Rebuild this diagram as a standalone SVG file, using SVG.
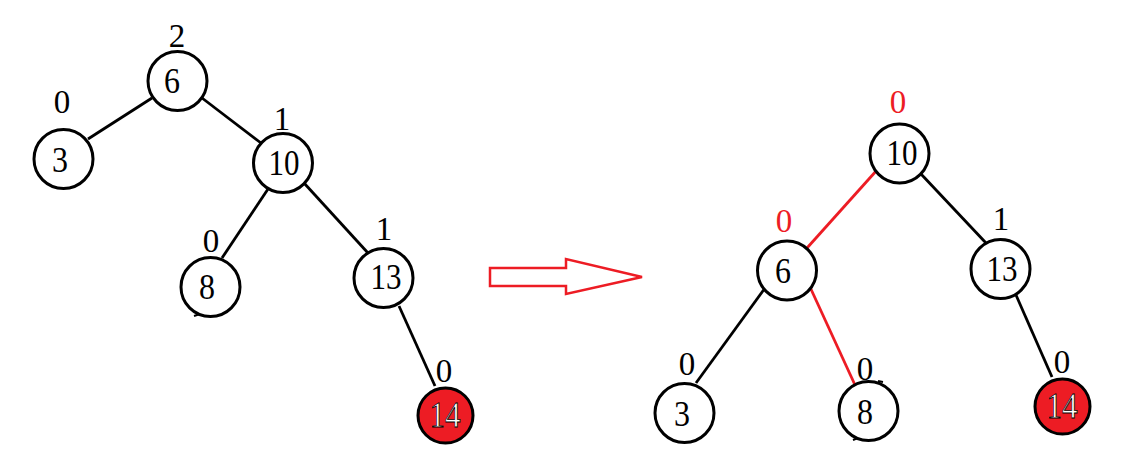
<svg xmlns="http://www.w3.org/2000/svg" width="1129" height="475" viewBox="0 0 1129 475">
<style>
.n{fill:#fff;stroke:#000;stroke-width:3}
.hot{fill:#ed1c24;stroke:#000;stroke-width:3}
.t{font-family:"Liberation Serif","Times New Roman",serif;font-size:36px;text-anchor:middle;fill:#000}
.tw{fill:#fff;stroke:#000;stroke-width:0.8}
.b{font-family:"Liberation Serif","Times New Roman",serif;font-size:33px;text-anchor:middle;fill:#000}
.r{fill:#ed1c24}
.e{stroke:#000;stroke-width:2.8;fill:none}
.er{stroke:#ed1c24;stroke-width:2.8;fill:none}
.tick{stroke:#000;stroke-width:2;fill:none}
</style>
<rect width="1129" height="475" fill="#fff"/>
<g id="connectors">
<line class="e" x1="152" y1="98" x2="88" y2="139"/>
<line class="e" x1="202" y1="98" x2="261" y2="143"/>
<line class="e" x1="268" y1="189" x2="222" y2="258"/>
<line class="e" x1="304" y1="183" x2="368" y2="253"/>
<line class="e" x1="399" y1="306" x2="435" y2="386"/>
<line class="er" x1="877" y1="170" x2="807" y2="248"/>
<line class="e" x1="921" y1="174" x2="986" y2="243"/>
<line class="e" x1="765" y1="288" x2="696" y2="383"/>
<line class="er" x1="810" y1="287" x2="855" y2="385"/>
<line class="e" x1="1016" y1="295" x2="1052" y2="377"/>
<path id="arrow" d="M490,268 H566 V259 L642,277 L566,294 V286 H490 Z" fill="#fff" stroke="#ed1c24" stroke-width="2.5"/>
</g>
<g id="L6"><circle class="n" cx="177.5" cy="81" r="29.5"/><text class="t" x="172" y="93" textLength="16" lengthAdjust="spacingAndGlyphs">6</text><text class="b" x="177" y="47">2</text></g>
<g id="L3"><circle class="n" cx="63.5" cy="159" r="29.5"/><text class="t" x="60" y="172" textLength="16" lengthAdjust="spacingAndGlyphs">3</text><text class="b" x="62" y="113">0</text></g>
<g id="L10"><circle class="n" cx="283" cy="163" r="29.5"/><text class="t" x="284" y="175" textLength="31" lengthAdjust="spacingAndGlyphs">10</text><text class="b" x="282" y="130">1</text></g>
<g id="L8"><circle class="n" cx="210.5" cy="287" r="29.5"/><text class="t" x="207" y="299" textLength="16" lengthAdjust="spacingAndGlyphs">8</text><text class="b" x="211" y="252">0</text><path class="tick" d="M194,316 L200,314"/></g>
<g id="L13"><circle class="n" cx="383.5" cy="278" r="29.5"/><text class="t" x="386" y="289" textLength="31" lengthAdjust="spacingAndGlyphs">13</text><text class="b" x="384" y="240">1</text></g>
<g id="L14"><circle class="hot" cx="445.5" cy="415.5" r="27.5"/><text class="t tw" x="445" y="427" textLength="31" lengthAdjust="spacingAndGlyphs">14</text><text class="b" x="444" y="382">0</text></g>
<g id="R10"><circle class="n" cx="899.5" cy="153.5" r="29.5"/><text class="t" x="902" y="165" textLength="31" lengthAdjust="spacingAndGlyphs">10</text><text class="b r" x="898" y="113">0</text></g>
<g id="R6"><circle class="n" cx="787" cy="270.5" r="29.5"/><text class="t" x="783" y="283" textLength="16" lengthAdjust="spacingAndGlyphs">6</text><text class="b r" x="784" y="232">0</text></g>
<g id="R13"><circle class="n" cx="1000.5" cy="269" r="29.5"/><text class="t" x="1002" y="281" textLength="31" lengthAdjust="spacingAndGlyphs">13</text><text class="b" x="1001" y="230">1</text></g>
<g id="R3"><circle class="n" cx="684.5" cy="413" r="29.5"/><text class="t" x="682" y="426" textLength="16" lengthAdjust="spacingAndGlyphs">3</text><text class="b" x="687" y="375">0</text></g>
<g id="R8"><circle class="n" cx="868.5" cy="411" r="29.5"/><text class="t" x="865" y="424" textLength="16" lengthAdjust="spacingAndGlyphs">8</text><text class="b" x="865" y="380">0</text><path class="tick" d="M878,381 L883,382 M853,440 L858,438"/></g>
<g id="R14"><circle class="hot" cx="1062.5" cy="406.5" r="27.5"/><text class="t tw" x="1062" y="418" textLength="31" lengthAdjust="spacingAndGlyphs">14</text><text class="b" x="1062" y="373">0</text></g>
</svg>
